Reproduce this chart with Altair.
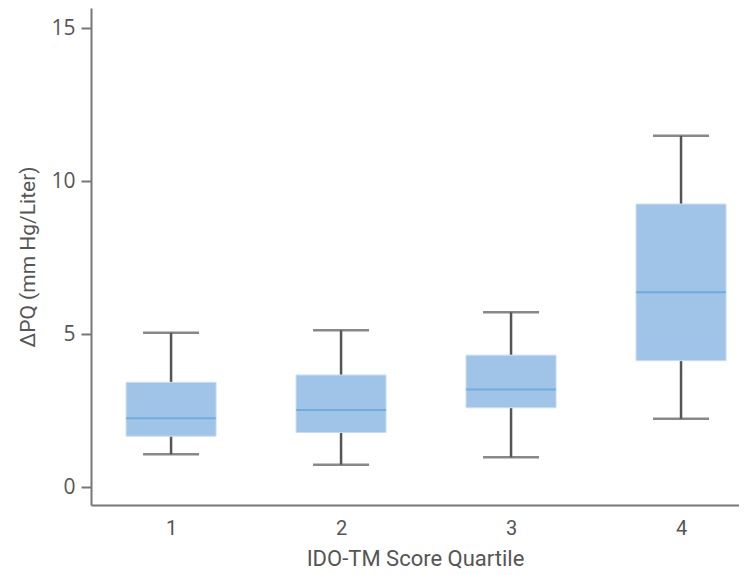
import altair as alt
import pandas as pd

quartile = [1, 2, 3, 4]
whisker_low = [1.08, 0.74, 0.98, 2.24]
q1 = [1.67, 1.79, 2.60, 4.14]
median = [2.26, 2.53, 3.20, 6.38]
q3 = [3.43, 3.67, 4.32, 9.26]
whisker_high = [5.05, 5.13, 5.72, 11.49]

df = pd.DataFrame({
    "quartile": quartile,
    "low": whisker_low,
    "q1": q1,
    "median": median,
    "q3": q3,
    "high": whisker_high,
})

TXT = "#555555"
AX = "#777777"
WH = "#555555"

xscale = alt.Scale(domain=[0.529, 4.341], nice=False, zero=False, padding=0)
yscale = alt.Scale(domain=[-0.58, 15.67], nice=False, zero=False, padding=0)

xaxis = alt.Axis(values=quartile, format="d", ticks=False, grid=False,
                 title="IDO-TM Score Quartile", labelFontSize=20, titleFontSize=22,
                 labelFont="Roboto", titleFont="Roboto",
                 labelColor=TXT, titleColor=TXT, titleFontWeight="normal",
                 labelPadding=13, titlePadding=10, domainColor=AX, domainWidth=2)
yaxis = alt.Axis(values=[0, 5, 10, 15], grid=False, title="ΔPQ (mm Hg/Liter)",
                 labelFontSize=21, titleFontSize=21, labelFont="Open Sans",
                 titleFont="Roboto", labelColor=TXT, titleColor=TXT,
                 titleFontWeight="normal", tickSize=10, tickColor=AX, tickWidth=2,
                 labelPadding=6, titlePadding=12, domainColor=AX, domainWidth=2)

base = alt.Chart(df)

whisk_lo = base.mark_rule(color=WH, strokeWidth=2.5).encode(
    x=alt.X("quartile:Q", scale=xscale, axis=xaxis),
    y=alt.Y("low:Q", scale=yscale, axis=yaxis),
    y2="q1:Q",
)
whisk_hi = base.mark_rule(color=WH, strokeWidth=2.5).encode(
    x=alt.X("quartile:Q", scale=xscale),
    y=alt.Y("q3:Q", scale=yscale),
    y2="high:Q",
)
cap_lo = base.mark_tick(color=WH, orient="horizontal", size=56, thickness=2.5).encode(
    x=alt.X("quartile:Q", scale=xscale), y=alt.Y("low:Q", scale=yscale))
cap_hi = base.mark_tick(color=WH, orient="horizontal", size=56, thickness=2.5).encode(
    x=alt.X("quartile:Q", scale=xscale), y=alt.Y("high:Q", scale=yscale))
box = base.mark_bar(color="#9FC4E8", size=90, stroke="#C9DDF2", strokeWidth=1).encode(
    x=alt.X("quartile:Q", scale=xscale),
    y=alt.Y("q1:Q", scale=yscale),
    y2="q3:Q",
)
med = base.mark_tick(color="#5BA3DC", orient="horizontal", size=90, thickness=2).encode(
    x=alt.X("quartile:Q", scale=xscale), y=alt.Y("median:Q", scale=yscale))

chart = alt.layer(whisk_lo, whisk_hi, cap_lo, cap_hi, box, med).properties(
    width=648, height=497,
    autosize=alt.AutoSizeParams(type="none"),
    padding={"left": 83, "top": 0, "right": 0, "bottom": 68},
).configure_view(stroke=None)

chart.save("out.html", embed_options={"renderer": "svg", "actions": False})
